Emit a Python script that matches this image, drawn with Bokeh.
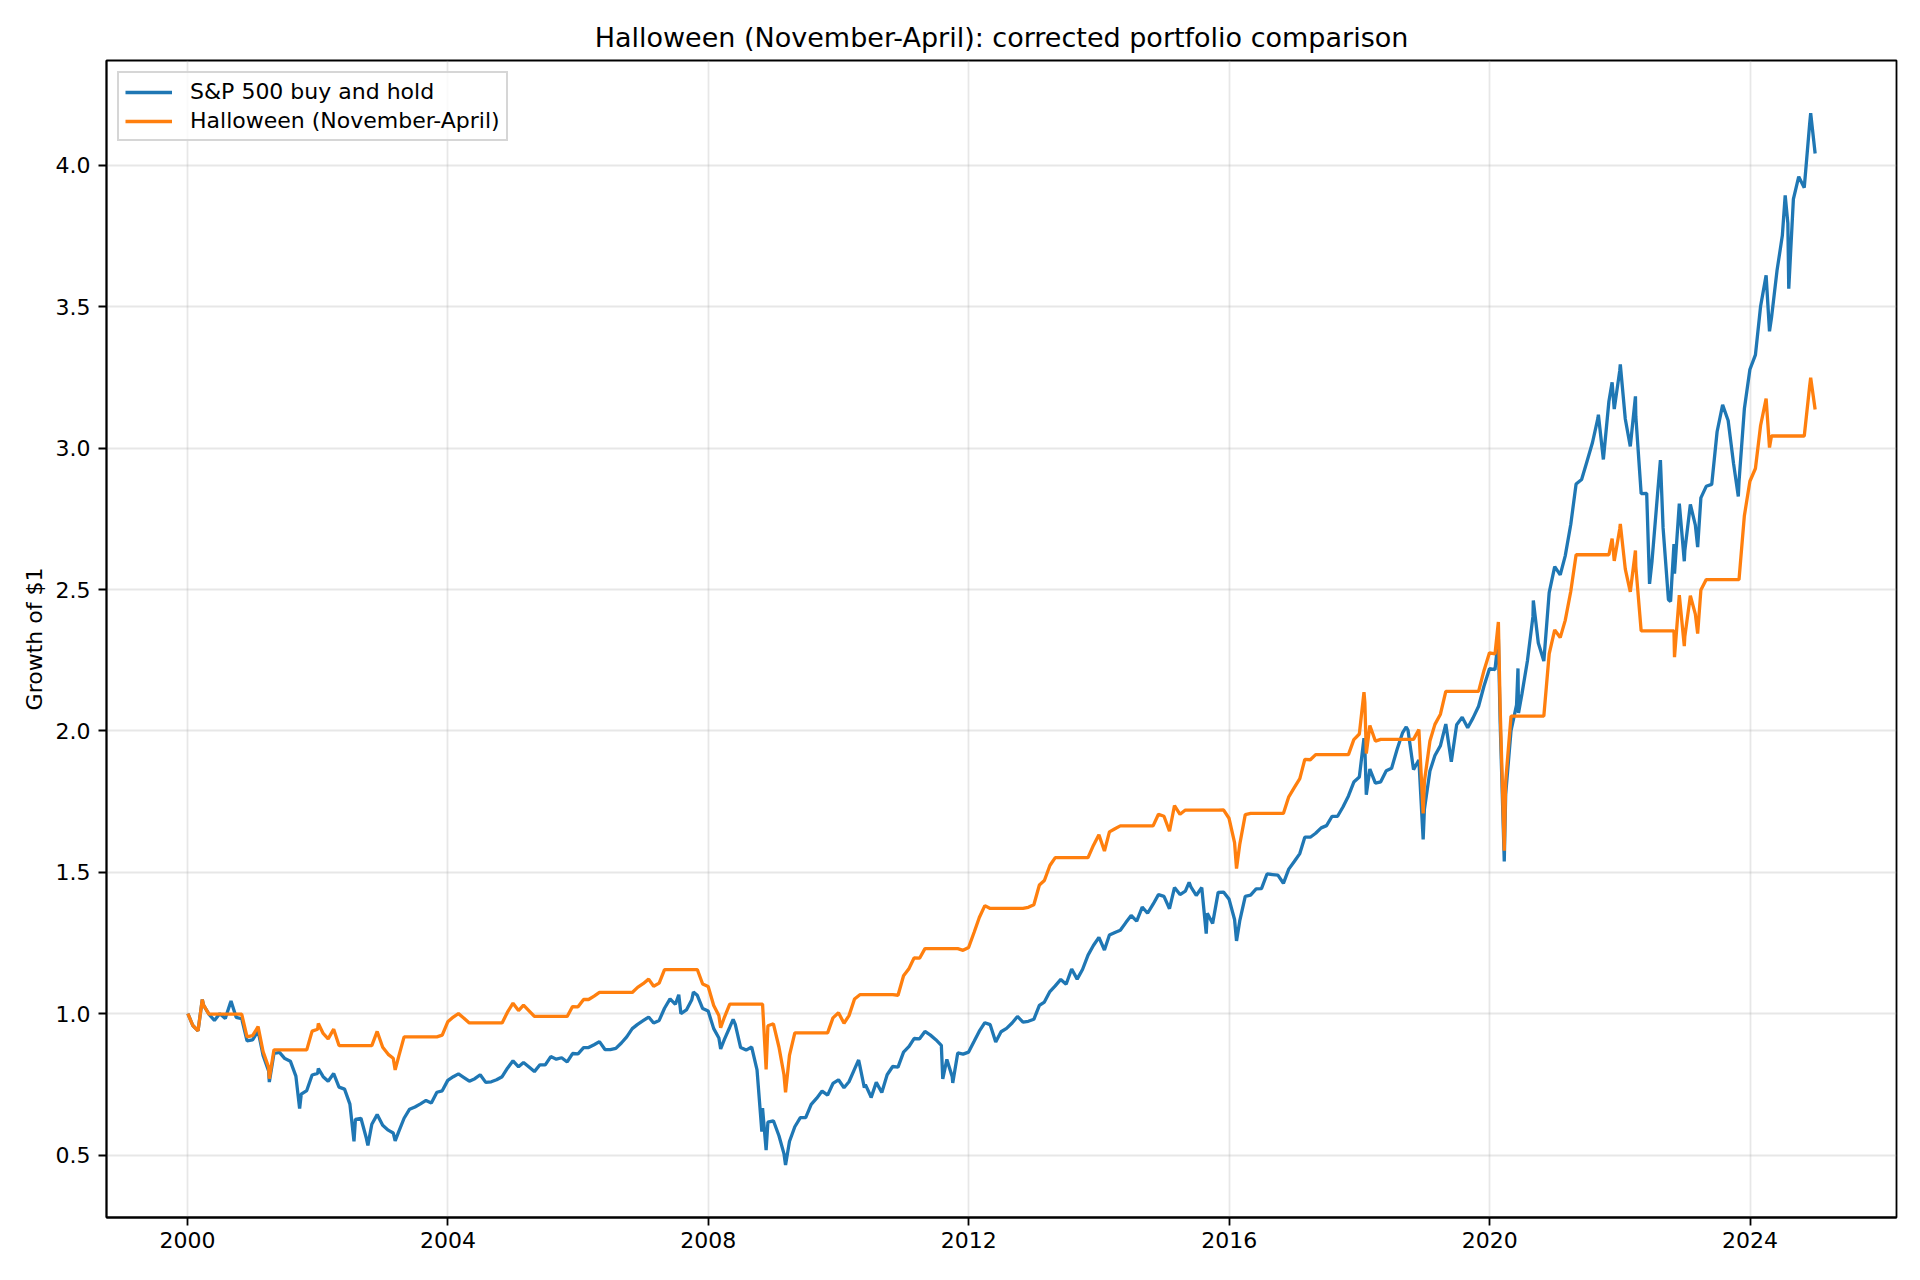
import pandas as pd
from bokeh.plotting import figure
from bokeh.models import (FixedTicker, DatetimeTickFormatter, PrintfTickFormatter,
                          Range1d, Legend, LegendItem, ColumnDataSource)
from bokeh.embed import file_html
from bokeh.resources import INLINE

# ---------------- data (growth of $1) ----------------
start_date = "2000-01-03"
start_value = 1.0
years = list(range(2000, 2025))

# month-end values, Jan 2000 .. Dec 2024
sp500_monthly = [
    0.958, 0.939, 1.030, 0.998, 0.976, 1.000, 0.983, 1.043, 0.987, 0.982, 0.904, 0.907,
    0.939, 0.852, 0.797, 0.859, 0.863, 0.841, 0.832, 0.779, 0.715, 0.728, 0.783, 0.789,
    0.777, 0.761, 0.788, 0.740, 0.733, 0.680, 0.626, 0.630, 0.560, 0.609, 0.643, 0.605,
    0.588, 0.578, 0.583, 0.630, 0.662, 0.670, 0.681, 0.693, 0.684, 0.722, 0.727, 0.764,
    0.777, 0.787, 0.774, 0.761, 0.770, 0.784, 0.757, 0.759, 0.766, 0.777, 0.807, 0.833,
    0.812, 0.827, 0.811, 0.795, 0.819, 0.819, 0.848, 0.839, 0.844, 0.829, 0.859, 0.858,
    0.880, 0.880, 0.890, 0.901, 0.873, 0.873, 0.877, 0.896, 0.918, 0.947, 0.962, 0.975,
    0.988, 0.967, 0.976, 1.019, 1.052, 1.033, 1.000, 1.013, 1.049, 1.065, 1.018, 1.009,
    0.947, 0.914, 0.909, 0.952, 0.962, 0.880, 0.871, 0.882, 0.801, 0.666, 0.616, 0.621,
    0.568, 0.505, 0.548, 0.600, 0.632, 0.632, 0.679, 0.701, 0.726, 0.712, 0.753, 0.766,
    0.738, 0.759, 0.804, 0.815, 0.749, 0.708, 0.757, 0.721, 0.784, 0.813, 0.811, 0.864,
    0.884, 0.912, 0.911, 0.937, 0.924, 0.908, 0.888, 0.838, 0.777, 0.861, 0.857, 0.864,
    0.902, 0.938, 0.968, 0.961, 0.900, 0.936, 0.948, 0.967, 0.990, 0.970, 0.973, 0.980,
    1.029, 1.041, 1.078, 1.098, 1.121, 1.104, 1.158, 1.122, 1.156, 1.207, 1.241, 1.270,
    1.225, 1.278, 1.287, 1.295, 1.322, 1.347, 1.327, 1.377, 1.355, 1.387, 1.421, 1.415,
    1.371, 1.446, 1.421, 1.433, 1.448, 1.418, 1.446, 1.355, 1.319, 1.429, 1.430, 1.405,
    1.333, 1.328, 1.415, 1.419, 1.441, 1.442, 1.494, 1.492, 1.490, 1.461, 1.511, 1.538,
    1.566, 1.624, 1.624, 1.638, 1.657, 1.665, 1.698, 1.698, 1.731, 1.770, 1.819, 1.837,
    1.940, 1.865, 1.815, 1.820, 1.859, 1.868, 1.935, 1.994, 2.002, 1.863, 1.897, 1.723,
    1.858, 1.913, 1.948, 2.024, 1.891, 2.022, 2.048, 2.011, 2.046, 2.087, 2.158, 2.220,
    2.217, 2.030, 1.776, 2.001, 2.092, 2.130, 2.248, 2.405, 2.311, 2.247, 2.489, 2.581,
    2.552, 2.619, 2.730, 2.873, 2.889, 2.953, 3.020, 3.108, 2.960, 3.165, 3.138, 3.275,
    3.103, 3.006, 3.113, 2.839, 2.840, 2.601, 2.838, 2.718, 2.464, 2.661, 2.804, 2.638,
    2.801, 2.728, 2.824, 2.865, 2.872, 3.058, 3.153, 3.098, 2.947, 2.882, 3.139, 3.278,
    3.330, 3.502, 3.611, 3.460, 3.627, 3.752, 3.795, 3.881, 3.960, 3.921, 4.145, 4.042,
]

halloween_monthly = [
    0.958, 0.939, 1.030, 0.998, 0.998, 0.998, 0.998, 0.998, 0.998, 0.998, 0.918, 0.922,
    0.954, 0.866, 0.810, 0.872, 0.872, 0.872, 0.872, 0.872, 0.872, 0.872, 0.938, 0.945,
    0.930, 0.911, 0.945, 0.887, 0.887, 0.887, 0.887, 0.887, 0.887, 0.887, 0.937, 0.881,
    0.856, 0.842, 0.849, 0.918, 0.918, 0.918, 0.918, 0.918, 0.918, 0.918, 0.924, 0.971,
    0.988, 1.000, 0.984, 0.967, 0.967, 0.967, 0.967, 0.967, 0.967, 0.967, 1.005, 1.037,
    1.011, 1.030, 1.010, 0.990, 0.990, 0.990, 0.990, 0.990, 0.990, 0.990, 1.025, 1.024,
    1.050, 1.050, 1.062, 1.075, 1.075, 1.075, 1.075, 1.075, 1.075, 1.075, 1.093, 1.106,
    1.122, 1.097, 1.108, 1.156, 1.156, 1.156, 1.156, 1.156, 1.156, 1.156, 1.105, 1.096,
    1.029, 0.993, 0.987, 1.034, 1.034, 1.034, 1.034, 1.034, 1.034, 1.034, 0.957, 0.964,
    0.882, 0.785, 0.852, 0.932, 0.932, 0.932, 0.932, 0.932, 0.932, 0.932, 0.985, 1.003,
    0.966, 0.993, 1.052, 1.067, 1.067, 1.067, 1.067, 1.067, 1.067, 1.067, 1.065, 1.134,
    1.160, 1.197, 1.196, 1.230, 1.230, 1.230, 1.230, 1.230, 1.230, 1.230, 1.224, 1.234,
    1.288, 1.340, 1.382, 1.372, 1.372, 1.372, 1.372, 1.372, 1.372, 1.372, 1.376, 1.385,
    1.455, 1.471, 1.524, 1.552, 1.552, 1.552, 1.552, 1.552, 1.552, 1.552, 1.595, 1.633,
    1.575, 1.643, 1.654, 1.664, 1.664, 1.664, 1.664, 1.664, 1.664, 1.664, 1.705, 1.698,
    1.645, 1.736, 1.705, 1.720, 1.720, 1.720, 1.720, 1.720, 1.720, 1.720, 1.721, 1.691,
    1.605, 1.598, 1.704, 1.708, 1.708, 1.708, 1.708, 1.708, 1.708, 1.708, 1.767, 1.799,
    1.831, 1.899, 1.898, 1.916, 1.916, 1.916, 1.916, 1.916, 1.916, 1.916, 1.969, 1.989,
    2.100, 2.019, 1.964, 1.970, 1.970, 1.970, 1.970, 1.970, 1.970, 1.970, 2.005, 1.821,
    1.964, 2.023, 2.059, 2.140, 2.140, 2.140, 2.140, 2.140, 2.140, 2.140, 2.213, 2.276,
    2.272, 2.081, 1.821, 2.052, 2.052, 2.052, 2.052, 2.052, 2.052, 2.052, 2.272, 2.357,
    2.330, 2.391, 2.493, 2.623, 2.623, 2.623, 2.623, 2.623, 2.623, 2.623, 2.601, 2.715,
    2.572, 2.492, 2.581, 2.354, 2.354, 2.354, 2.354, 2.354, 2.354, 2.354, 2.480, 2.334,
    2.478, 2.413, 2.498, 2.535, 2.535, 2.535, 2.535, 2.535, 2.535, 2.535, 2.761, 2.883,
    2.928, 3.080, 3.175, 3.043, 3.043, 3.043, 3.043, 3.043, 3.043, 3.043, 3.218, 3.137,
]

# intra-month highs / lows visible on the chart
sp500_extreme_dates = [
    "2000-03-24", "2000-09-01", "2001-04-04", "2001-09-21", "2002-01-04", "2002-07-23",
    "2002-10-09", "2003-03-11", "2007-07-19", "2007-10-09", "2008-03-10", "2008-05-19",
    "2008-10-27", "2008-11-20", "2009-03-09", "2010-04-23", "2010-05-25", "2010-07-02",
    "2011-08-08", "2011-10-03", "2015-05-21", "2015-08-25", "2016-02-11", "2018-01-26",
    "2018-02-08", "2018-09-20", "2018-12-24", "2020-02-19", "2020-03-23", "2020-06-08",
    "2020-06-11", "2020-09-02", "2021-09-02", "2021-11-18", "2022-01-03", "2022-03-29",
    "2022-06-16", "2022-08-16", "2022-10-12", "2022-11-03", "2022-12-28", "2023-03-13",
    "2023-10-27", "2024-04-19", "2024-07-16", "2024-08-05", "2024-12-06",
]
sp500_extreme_values = [
    1.050, 1.045, 0.758, 0.664, 0.806, 0.548,
    0.534, 0.550, 1.067, 1.076, 0.875, 0.980,
    0.583, 0.517, 0.465, 0.836, 0.738, 0.703,
    0.769, 0.755, 1.464, 1.283, 1.257, 1.974,
    1.774, 2.014, 1.616, 2.327, 1.538, 2.221,
    2.063, 2.461, 3.118, 3.233, 3.296, 3.183,
    2.520, 2.958, 2.458, 2.556, 2.600, 2.650,
    2.829, 3.413, 3.894, 3.564, 4.185,
]

halloween_extreme_dates = [
    "2000-03-24", "2001-04-04", "2002-01-04", "2003-03-11", "2008-03-10", "2008-11-20",
    "2009-03-09", "2016-02-11", "2018-01-26", "2018-02-08", "2018-12-24", "2020-02-19",
    "2020-03-23", "2021-11-18", "2022-01-03", "2022-03-29", "2022-11-03", "2022-12-28",
    "2023-03-13", "2024-04-19", "2024-12-06",
]
halloween_extreme_values = [
    1.050, 0.770, 0.965, 0.801, 0.950, 0.803,
    0.722, 1.513, 2.137, 1.920, 1.708, 2.385,
    1.576, 2.680, 2.732, 2.638, 2.261, 2.300,
    2.344, 3.002, 3.249,
]

tick_years = [2000, 2004, 2008, 2012, 2016, 2020, 2024]
y_ticks = [0.5, 1.0, 1.5, 2.0, 2.5, 3.0, 3.5, 4.0]

# ---------------- build series ----------------
month_ends = [pd.Timestamp(y, m, 1) + pd.offsets.MonthEnd(0) for y in years for m in range(1, 13)]


def build(monthly, extra_dates, extra_values):
    d = [pd.Timestamp(start_date)] + month_ends + [pd.Timestamp(x) for x in extra_dates]
    v = [start_value] + list(monthly) + list(extra_values)
    df = pd.DataFrame({"date": d, "value": v}).sort_values("date").reset_index(drop=True)
    return df


sp_df = build(sp500_monthly, sp500_extreme_dates, sp500_extreme_values)
hw_df = build(halloween_monthly, halloween_extreme_dates, halloween_extreme_values)

xmin = min(sp_df["date"].min(), hw_df["date"].min())
xmax = max(sp_df["date"].max(), hw_df["date"].max())
xpad = (xmax - xmin) * 0.05
ymin = min(sp_df["value"].min(), hw_df["value"].min())
ymax = max(sp_df["value"].max(), hw_df["value"].max())
ypad = (ymax - ymin) * 0.05


def ms(ts):
    return pd.Timestamp(ts).value / 1e6


FONT = "DejaVu Sans"

p = figure(width=1912, height=1272, x_axis_type="datetime",
           x_range=Range1d(ms(xmin - xpad), ms(xmax + xpad)),
           y_range=Range1d(ymin - ypad, ymax + ypad),
           output_backend="svg", toolbar_location=None,
           title="Halloween (November-April): corrected portfolio comparison",
           min_border_left=106, min_border_right=16, min_border_top=60, min_border_bottom=55)

p.background_fill_color = "white"
p.border_fill_color = "white"
p.outline_line_color = "black"
p.outline_line_width = 1.8
p.outline_line_alpha = 1.0

p.title.text_font = FONT
p.title.text_font_size = "27px"
p.title.text_font_style = "normal"
p.title.align = "center"
p.title.text_color = "black"
p.title.standoff = 15

r_sp = p.line(x="date", y="value", source=ColumnDataSource(sp_df),
              line_color="#1f77b4", line_width=3.3)
r_hw = p.line(x="date", y="value", source=ColumnDataSource(hw_df),
              line_color="#ff7f0e", line_width=3.3)

p.xaxis.ticker = FixedTicker(ticks=[ms(pd.Timestamp(y, 1, 1)) for y in tick_years])
p.xaxis.formatter = DatetimeTickFormatter(years="%Y", months="%Y", days="%Y", hours="%Y",
                                          minutes="%Y", seconds="%Y", milliseconds="%Y",
                                          microseconds="%Y", hourmin="%Y", minsec="%Y")
p.yaxis.ticker = FixedTicker(ticks=y_ticks)
p.yaxis.formatter = PrintfTickFormatter(format="%.1f")
p.yaxis.axis_label = "Growth of $1"
p.yaxis.axis_label_text_font = FONT
p.yaxis.axis_label_text_font_size = "22px"
p.yaxis.axis_label_text_font_style = "normal"
p.yaxis.axis_label_text_color = "black"
p.yaxis.axis_label_standoff = 6

for ax in (p.xaxis, p.yaxis):
    ax.major_label_text_font = FONT
    ax.major_label_text_font_size = "22px"
    ax.major_label_text_color = "black"
    ax.axis_line_color = "black"
    ax.axis_line_width = 1.8
    ax.major_tick_line_color = "black"
    ax.major_tick_line_width = 1.8
    ax.major_tick_out = 8
    ax.major_tick_in = 0
    ax.minor_tick_line_color = None
    ax.major_label_standoff = 8
p.xaxis.major_label_standoff = 6

p.grid.grid_line_color = "#b0b0b0"
p.grid.grid_line_alpha = 0.3
p.grid.grid_line_width = 1.8

legend = Legend(items=[LegendItem(label="S&P 500 buy and hold", renderers=[r_sp]),
                       LegendItem(label="Halloween (November-April)", renderers=[r_hw])],
                location="top_left")
legend.margin = 11
legend.padding = 6
legend.spacing = 4
legend.glyph_width = 47
legend.glyph_height = 22
legend.label_height = 22
legend.label_standoff = 18
legend.label_text_font = FONT
legend.label_text_font_size = "22px"
legend.label_text_color = "black"
legend.border_line_color = "#cccccc"
legend.border_line_width = 2
legend.border_line_alpha = 0.8
legend.background_fill_color = "white"
legend.background_fill_alpha = 0.8
p.add_layout(legend)

open("out.html", "w").write(file_html(p, INLINE))
